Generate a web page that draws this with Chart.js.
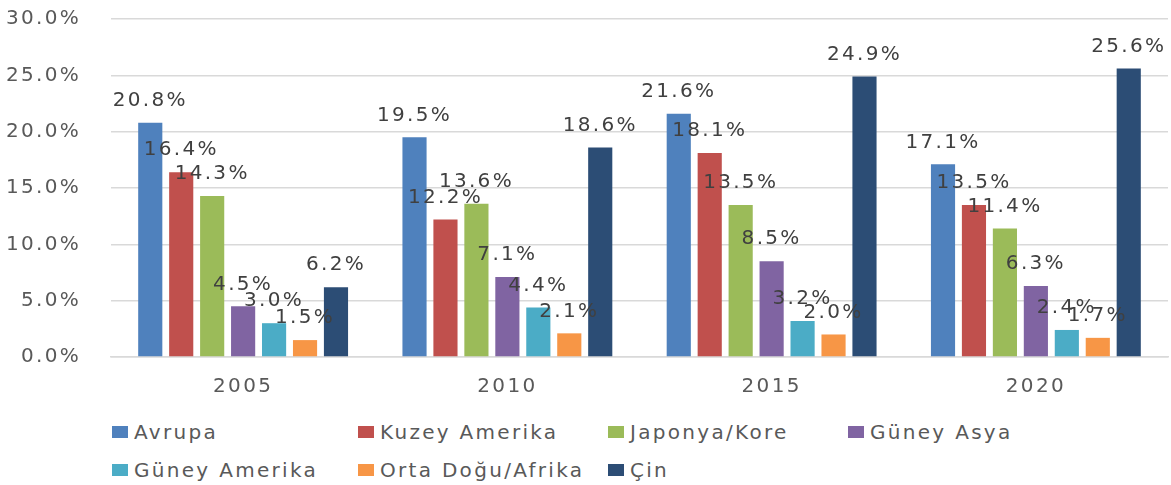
<!DOCTYPE html>
<html>
<head>
<meta charset="utf-8">
<script src="https://cdn.jsdelivr.net/npm/chart.js@4/dist/chart.umd.min.js"></script>
<style>
  body { margin: 0; background: #fff; overflow: hidden; }
  #wrap { position: relative; width: 1171px; height: 485px; overflow: hidden; }
  #box { position: absolute; left: 0; top: -23px; width: 1171px; height: 423px; }
  #legend { position: absolute; left: 112px; top: 419px; display: grid;
    grid-template-columns: 246px 250px 240px 200px; row-gap: 12px;
    font: 20px "DejaVu Sans", sans-serif; color: #595959; letter-spacing: 2.3px; }
  #legend div { display: flex; align-items: center; height: 26px; white-space: nowrap; }
  #legend span.sw { display: inline-block; width: 16px; height: 12px; margin-right: 6px; }
</style>
</head>
<body>
<div id="wrap">
  <div id="box"><canvas id="chart"></canvas></div>
  <div id="legend"></div>
</div>
<script>
const years = ['2005', '2010', '2015', '2020']
const avrupa = [20.8, 19.5, 21.6, 17.1]
const kuzeyAmerika = [16.4, 12.2, 18.1, 13.5]
const japonyaKore = [14.3, 13.6, 13.5, 11.4]
const guneyAsya = [4.5, 7.1, 8.5, 6.3]
const guneyAmerika = [3.0, 4.4, 3.2, 2.4]
const ortaDogu = [1.5, 2.1, 2.0, 1.7]
const cin = [6.2, 18.6, 24.9, 25.6]

const seriesNames = ['Avrupa', 'Kuzey Amerika', 'Japonya/Kore', 'Güney Asya', 'Güney Amerika', 'Orta Doğu/Afrika', 'Çin']
const seriesData = [avrupa, kuzeyAmerika, japonyaKore, guneyAsya, guneyAmerika, ortaDogu, cin]
const colors = ['#4f81bd', '#c0504d', '#9bbb59', '#8064a2', '#4bacc6', '#f79646', '#2c4d75']

const FONT = '"DejaVu Sans", sans-serif'
const SPACING = '2.3px'

// wider text like the original picture
const wideText = {
  id: 'wideText',
  beforeDraw(chart) { chart.ctx.letterSpacing = SPACING }
}

// draws the value above each bar
const valueLabels = {
  id: 'valueLabels',
  afterDatasetsDraw(chart) {
    const ctx = chart.ctx
    ctx.save()
    ctx.letterSpacing = SPACING
    ctx.font = '20px ' + FONT
    ctx.fillStyle = '#404040'
    ctx.textAlign = 'center'
    ctx.textBaseline = 'middle'
    chart.data.datasets.forEach(function(ds, i) {
      chart.getDatasetMeta(i).data.forEach(function(bar, j) {
        ctx.fillText(ds.data[j].toFixed(1) + '%', bar.x, bar.y - 22)
      })
    })
    ctx.restore()
  }
}

let datasets = []
for (let i = 0; i < seriesNames.length; i++) {
  datasets.push({
    label: seriesNames[i],
    data: seriesData[i],
    backgroundColor: colors[i],
    categoryPercentage: 0.82,
    barPercentage: 0.78
  })
}

var ctx = document.getElementById('chart').getContext('2d')
var myChart = new Chart(ctx, {
  type: 'bar',
  data: { labels: years, datasets: datasets },
  options: {
    responsive: true,
    maintainAspectRatio: false,
    animation: false,
    layout: { padding: { top: 10, right: 3, left: 0, bottom: 0 } },
    plugins: { legend: { display: false }, tooltip: { enabled: false } },
    scales: {
      x: {
        grid: { display: false, drawTicks: false },
        border: { color: '#d9d9d9', width: 1.5 },
        ticks: { color: '#595959', font: { family: FONT, size: 20 }, padding: 18 },
        afterFit: function(s) { s.height = 43 }
      },
      y: {
        min: 0, max: 30,
        border: { display: false },
        grid: { color: '#d9d9d9', lineWidth: 1.5, drawTicks: false },
        ticks: {
          stepSize: 5, padding: 30, color: '#595959',
          font: { family: FONT, size: 20 },
          callback: function(v) { return v.toFixed(1) + '%' }
        },
        afterFit: function(s) { s.width = 111 }
      }
    }
  },
  plugins: [wideText, valueLabels]
})

// html legend in a grid, like the original
const legend = document.getElementById('legend')
myChart.data.datasets.forEach(function(ds) {
  const item = document.createElement('div')
  item.innerHTML = '<span class="sw" style="background:' + ds.backgroundColor + '"></span>' + ds.label
  legend.appendChild(item)
})
</script>
</body>
</html>
